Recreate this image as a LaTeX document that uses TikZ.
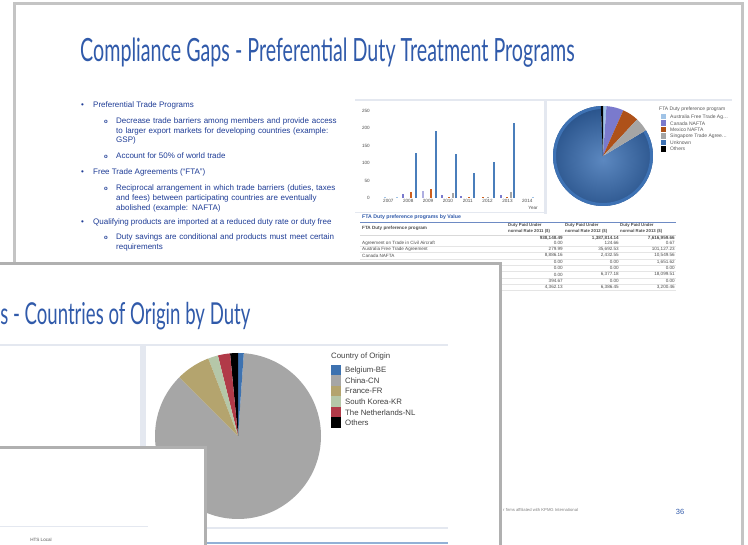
\documentclass[tikz,border=0pt]{standalone}
\usepackage{fontspec}
\setmainfont{Liberation Sans}
\newfontfamily\titlefont[FakeStretch=0.615]{Lato}
\usetikzlibrary{positioning}

\definecolor{titleblue}{RGB}{48,90,170}
\definecolor{bodyblue}{RGB}{30,60,150}
\definecolor{frame}{RGB}{196,196,196}
\definecolor{frametop}{RGB}{176,176,176}
\definecolor{panel}{RGB}{228,232,240}
\definecolor{barblue}{RGB}{74,126,187}
\definecolor{barpurple}{RGB}{122,122,205}
\definecolor{barorange}{RGB}{205,95,30}
\definecolor{bargray}{RGB}{165,165,165}
\definecolor{barlight}{RGB}{160,195,230}
\definecolor{ftadark}{RGB}{40,82,138}
\definecolor{ftamid}{RGB}{92,136,192}
\definecolor{ftarim}{RGB}{62,114,180}
\definecolor{cnblue}{RGB}{61,114,176}
\definecolor{cngray}{RGB}{166,166,166}
\definecolor{cntan}{RGB}{180,164,110}
\definecolor{cngreen}{RGB}{181,199,168}
\definecolor{cnred}{RGB}{177,58,72}

\tikzset{
  slide/.style={draw=frame, line width=3pt, fill=white},
  upperslide/.style={draw=frametop, line width=3pt, fill=white},
  bigtitle/.style={font=\titlefont\fontsize{32}{34}\selectfont, text=titleblue, inner sep=0pt},
  bodytext/.style={font=\fontsize{8}{9.6}\selectfont, text=bodyblue, anchor=base west, inner sep=0pt},
  subpara/.style={bodytext, text width=224pt, align=left},
  tinytext/.style={font=\fontsize{4.6}{5.4}\selectfont, text=black!70, inner sep=0pt},
  legtext/.style={font=\fontsize{5}{6}\selectfont, text=black!65, anchor=west, inner sep=0pt},
  keytext/.style={font=\fontsize{7.8}{9}\selectfont, text=black!75, anchor=west, inner sep=0pt},
}

\begin{document}
\begin{tikzpicture}[x=1pt,y=-1pt]
\useasboundingbox (0,0) rectangle (748,545);
\fill[white] (0,0) rectangle (748,545);
\begin{scope}
\clip (0,0) rectangle (748,545);

% Back slide: preferential duty programs
\draw[slide] (14,4) rectangle (742,600);
\node[bigtitle, anchor=base west] (titleback) at (80,62) {Compliance Gaps - Preferential Duty Treatment Programs};

% Bullets
\node[bodytext] (dot1) at (81,108) {\textbullet};
\node[bodytext] (item1) at (93,108) {Preferential Trade Programs};
\node[bodytext] (sub1) at (104,123.5) {\bfseries\fontsize{6}{6}\selectfont o};
\node[subpara] (item1a) at (116,123.5) {Decrease trade barriers among members and provide access\\ to larger export markets for developing countries (example:\\ GSP)};
\node[bodytext] (sub2) at (104,158.5) {\bfseries\fontsize{6}{6}\selectfont o};
\node[bodytext] (item1b) at (116,158.5) {Account for 50\% of world trade};
\node[bodytext] (dot2) at (81,174.5) {\textbullet};
\node[bodytext] (item2) at (93,174.5) {Free Trade Agreements (``FTA'')};
\node[bodytext] (sub3) at (104,191) {\bfseries\fontsize{6}{6}\selectfont o};
\node[subpara] (item2a) at (116,191) {Reciprocal arrangement in which trade barriers (duties, taxes\\ and fees) between participating countries are eventually\\ abolished (example: NAFTA)};
\node[bodytext] (dot3) at (81,225) {\textbullet};
\node[bodytext] (item3) at (93,225) {Qualifying products are imported at a reduced duty rate or duty free};
\node[bodytext] (sub4) at (104,240) {\bfseries\fontsize{6}{6}\selectfont o};
\node[subpara] (item3a) at (116,240) {Duty savings are conditional and products must meet certain\\ requirements};

% Chart panel
\draw[panel, line width=1.5pt] (355,100) -- (732,100);
\fill[panel] (544,100) rectangle (547,214);
\draw[panel, line width=1pt] (355,213) -- (544,213);

% Bar chart
\foreach \v in {0,50,...,250}
  \node[tinytext, anchor=east] (tick\v) at (370,{198-0.348*\v}) {\v};
\foreach \yr [count=\i] in {2007,...,2014}
  \node[tinytext, anchor=north] (year\yr) at ({368.5+19.85*\i},199.5) {\yr};
\node[tinytext] (yearlab) at (533,208) {Year};
\foreach \bx/\bv/\bc in {385/2/barlight, 397/2/barlight,
    403/11/barpurple, 411/16/barorange, 416/130/barblue,
    423/20/barpurple!60, 431/27/barorange, 436/193/barblue,
    442/8/barpurple, 449/3/barorange, 453/15/bargray, 456/127/barblue,
    461/5/barpurple, 469/4/barorange, 474/73/barblue,
    483/3/barorange, 488/3/bargray, 494/103/barblue,
    501/10/barpurple, 507/4/barorange, 511/17/bargray, 514/215/barblue,
    533/4/barlight}
  \fill[\bc] ({\bx-1.1},198) rectangle ({\bx+1.1},{198-0.348*\bv});

% FTA pie
\begin{scope}[shift={(603,156)}, yscale=-1]
  \shade[inner color=ftamid, outer color=ftadark] (0,0) -- (31:50) arc (31:-267.5:50) -- cycle;
  \draw[ftarim, line width=3pt] (31:48.5) arc (31:-267.5:48.5);
  \fill[barlight] (0,0) -- (86:50) arc (86:90:50) -- cycle;
  \fill[barpurple] (0,0) -- (66:50) arc (66:86:50) -- cycle;
  \fill[barorange!85!black] (0,0) -- (47:50) arc (47:66:50) -- cycle;
  \fill[bargray] (0,0) -- (31:50) arc (31:47:50) -- cycle;
  \fill[black] (0,0) -- (90:50) arc (90:92.5:50) -- cycle;
\end{scope}

% FTA legend
\node[legtext] (ftakey) at (659,109) {FTA Duty preference program};
\foreach \lab/\col [count=\i] in {{Australia Free Trade Ag\ldots}/barlight, {Canada NAFTA}/barpurple,
    {Mexico NAFTA}/barorange!85!black, {Singapore Trade Agree\ldots}/bargray, {Unknown}/ftarim, {Others}/black}
{
  \fill[\col] (661,{114+6.45*(\i-1)}) rectangle (666,{119.5+6.45*(\i-1)});
  \node[legtext] (ftaitem\i) at (670,{116.8+6.45*(\i-1)}) {\lab};
}

% Table by value
\node[tinytext, anchor=base west, text=titleblue, font=\bfseries\fontsize{5.2}{6}\selectfont] (tabtitle) at (362,219) {FTA Duty preference programs by Value};
\draw[titleblue!70, line width=0.8pt] (360,222) -- (676,222);
\node[tinytext, anchor=base west, font=\bfseries\fontsize{4.6}{5.4}\selectfont] (tabhead) at (362,229.5) {FTA Duty preference program};
\foreach \yr/\cx in {2011/508, 2012/565, 2013/620}
  \node[tinytext, anchor=north west, align=left, font=\bfseries\fontsize{4.3}{5.6}\selectfont] (colhead\yr) at (\cx,223.5) {Duty Paid Under\\ normal Rate \yr{} (\$)};
\draw[black!15] (360,235) -- (676,235);
\node[tinytext, anchor=east, font=\bfseries\fontsize{4.6}{5.4}\selectfont] (total1) at (563,238) {938,148.49};
\node[tinytext, anchor=east, font=\bfseries\fontsize{4.6}{5.4}\selectfont] (total2) at (619,238) {1,387,814.14};
\node[tinytext, anchor=east, font=\bfseries\fontsize{4.6}{5.4}\selectfont] (total3) at (675,238) {7,616,959.66};
\foreach \lab/\va/\vb/\vc [count=\i] in {
    Agreement on Trade in Civil Aircraft/0.00/124.66/0.67,
    Australia Free Trade Agreement/279.99/{35,692.53}/{101,127.23},
    Canada NAFTA/{8,886.16}/{2,432.55}/{10,549.56},
    /0.00/0.00/{1,651.62},
    /0.00/0.00/0.00,
    /0.00/{6,377.18}/{18,099.51},
    /394.67/0.00/0.00,
    /{4,362.13}/{6,386.45}/{3,200.46}}
{
  \draw[black!10] (360,{240+6.3*\i}) -- (676,{240+6.3*\i});
  \node[tinytext, anchor=west] (rowlab\i) at (362,{243+6.3*(\i-1)}) {\lab};
  \node[tinytext, anchor=east] (rowa\i) at (563,{243+6.3*(\i-1)}) {\va};
  \node[tinytext, anchor=east] (rowb\i) at (619,{243+6.3*(\i-1)}) {\vb};
  \node[tinytext, anchor=east] (rowc\i) at (675,{243+6.3*(\i-1)}) {\vc};
}

% Footer
\node[tinytext, anchor=base west, text=black!50, font=\fontsize{4.2}{5}\selectfont] (footer) at (503,512) {r firms affiliated with KPMG International};
\node[anchor=base, inner sep=0pt, text=titleblue, font=\fontsize{7.5}{8}\selectfont] (pagenum) at (680,515) {36};

% Middle slide: countries of origin
\draw[upperslide] (-10,264) rectangle (500,600);
\node[bigtitle, anchor=base east, font=\titlefont\fontsize{30.2}{32}\selectfont] (titlemid) at (250.5,325) {s - Countries of Origin by Duty};
\draw[panel, line width=2pt] (0,345) -- (448,345);
\fill[panel] (140,345) rectangle (146,545);
\draw[panel, line width=1.5pt] (146,528) -- (448,528);
\draw[barblue!60, line width=1.2pt] (146,543) -- (448,543);

% Country pie
\begin{scope}[shift={(238,436)}, yscale=-1]
  \fill[cngray] (0,0) -- (135:83) arc (135:446:83) -- cycle;
  \fill[cnblue] (0,0) -- (86:83) arc (86:90:83) -- cycle;
  \fill[black] (0,0) -- (90:83) arc (90:95.5:83) -- cycle;
  \fill[cnred] (0,0) -- (95.5:83) arc (95.5:104:83) -- cycle;
  \fill[cngreen] (0,0) -- (104:83) arc (104:111:83) -- cycle;
  \fill[cntan] (0,0) -- (111:83) arc (111:135:83) -- cycle;
\end{scope}

% Country legend
\node[keytext] (cnkey) at (331,356) {Country of Origin};
\foreach \lab/\col [count=\i] in {Belgium-BE/cnblue, China-CN/cngray, France-FR/cntan,
    South Korea-KR/cngreen, The Netherlands-NL/cnred, Others/black}
{
  \fill[\col] (331,{365+10.5*(\i-1)}) rectangle (341,{375.5+10.5*(\i-1)});
  \node[keytext] (cnitem\i) at (345,{370.3+10.5*(\i-1)}) {\lab};
}

% Front slide
\draw[upperslide] (-10,448) rectangle (205,600);
\draw[panel, line width=1pt] (0,527) -- (148,527);
\node[tinytext, text=black!65] (htslocal) at (41,540) {HTS Local};
\end{scope}
\end{tikzpicture}
\end{document}
